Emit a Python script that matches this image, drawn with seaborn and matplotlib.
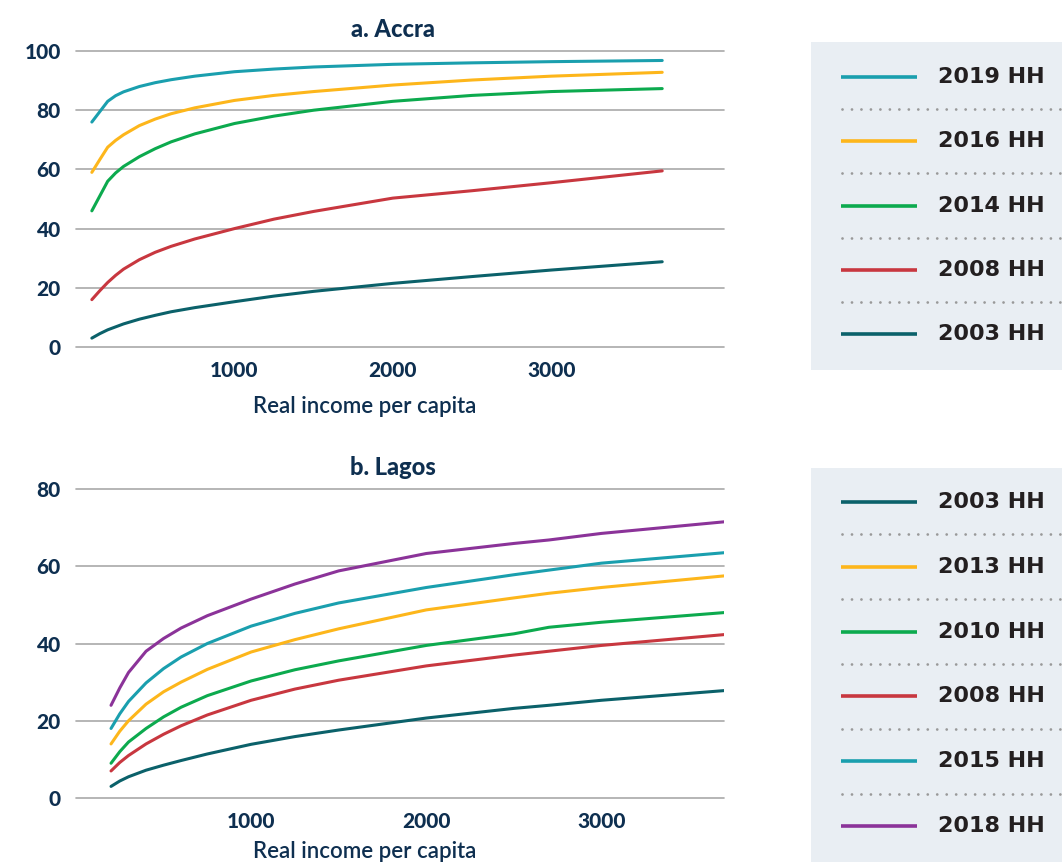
import numpy as np
import pandas as pd
import matplotlib
matplotlib.use("Agg")
import matplotlib.pyplot as plt
import seaborn as sns

# ---- Accra: share (%) by real income per capita ----
accra_income = [100, 150, 200, 250, 300, 400, 500, 600, 750, 1000, 1250,
                1500, 2000, 2500, 3000, 3700]
accra_2019 = [76, 79.5, 83, 84.9, 86.2, 88, 89.3, 90.3, 91.5, 93, 93.9,
              94.6, 95.5, 96, 96.4, 96.8]
accra_2016 = [59, 63.3, 67.5, 69.8, 71.7, 74.8, 77, 78.8, 80.8, 83.3, 85,
              86.3, 88.5, 90.2, 91.5, 92.8]
accra_2014 = [46, 51, 56, 58.8, 61, 64.3, 67, 69.3, 72, 75.5, 78,
              80, 83, 85, 86.3, 87.3]
accra_2008 = [16, 19, 21.8, 24.2, 26.3, 29.5, 32, 34, 36.5, 40, 43.2,
              45.8, 50.3, 52.8, 55.5, 59.5]
accra_2003 = [3, 4.5, 5.8, 6.8, 7.8, 9.4, 10.7, 11.9, 13.3, 15.3, 17.2,
              18.8, 21.5, 23.8, 26, 28.8]

# ---- Lagos ----
lagos_income = [200, 250, 300, 400, 500, 600, 750, 1000, 1250, 1500, 2000,
                2500, 2700, 3000, 3700]
lagos_2018 = [24, 28.5, 32.5, 38, 41.3, 44, 47.2, 51.5, 55.4, 58.8, 63.3,
              65.9, 66.8, 68.5, 71.5]
lagos_2015 = [18, 21.8, 25, 29.8, 33.5, 36.5, 40, 44.5, 47.8, 50.5, 54.5,
              57.8, 59, 60.8, 63.5]
lagos_2013 = [14, 17.3, 20, 24.3, 27.5, 30, 33.3, 37.8, 41, 43.8, 48.7,
              51.8, 53, 54.5, 57.5]
lagos_2010 = [9, 12, 14.5, 18, 21, 23.5, 26.5, 30.3, 33.2, 35.5, 39.5,
              42.5, 44.2, 45.5, 48]
lagos_2008 = [7, 9.2, 11, 14, 16.5, 18.7, 21.5, 25.3, 28.2, 30.5, 34.2,
              37, 38, 39.5, 42.3]
lagos_2003 = [3, 4.4, 5.5, 7.2, 8.5, 9.7, 11.4, 13.9, 15.9, 17.6, 20.7,
              23.2, 24, 25.3, 27.8]

accra_order = ["2019 HH", "2016 HH", "2014 HH", "2008 HH", "2003 HH"]
lagos_order = ["2003 HH", "2013 HH", "2010 HH", "2008 HH", "2015 HH", "2018 HH"]

colors = {
    "teal": "#1a9fae",
    "yellow": "#fdb61b",
    "green": "#0caa4e",
    "red": "#c8373f",
    "dark": "#0b616a",
    "purple": "#8b3399",
}
accra_pal = {"2019 HH": colors["teal"], "2016 HH": colors["yellow"],
             "2014 HH": colors["green"], "2008 HH": colors["red"],
             "2003 HH": colors["dark"]}
lagos_pal = {"2003 HH": colors["dark"], "2013 HH": colors["yellow"],
             "2010 HH": colors["green"], "2008 HH": colors["red"],
             "2015 HH": colors["teal"], "2018 HH": colors["purple"]}


def long_frame(income, series):
    rows = []
    for name, vals in series.items():
        for x, v in zip(income, vals):
            rows.append({"income": x, "share": v, "series": name})
    return pd.DataFrame(rows)


accra_df = long_frame(accra_income, {
    "2019 HH": accra_2019, "2016 HH": accra_2016, "2014 HH": accra_2014,
    "2008 HH": accra_2008, "2003 HH": accra_2003})
lagos_df = long_frame(lagos_income, {
    "2003 HH": lagos_2003, "2013 HH": lagos_2013, "2010 HH": lagos_2010,
    "2008 HH": lagos_2008, "2015 HH": lagos_2015, "2018 HH": lagos_2018})

sns.set_theme(style="white")
plt.rcParams["font.family"] = ["Lato", "DejaVu Sans"]

NAVY = "#0e2f50"
GRID = "#a9a9a9"
W, H = 1062, 864
fig = plt.figure(figsize=(W / 100, H / 100), dpi=100)
fig.patch.set_facecolor("white")


def frac(x0, y0, x1, y1):
    return [x0 / W, 1 - y1 / H, (x1 - x0) / W, (y1 - y0) / H]


def style_axis(ax, title, ylim, yticks, xlim, label_y):
    ax.set_xlim(*xlim)
    ax.set_ylim(*ylim)
    ax.set_yticks(yticks)
    ax.set_xticks([1000, 2000, 3000])
    for s in ax.spines.values():
        s.set_visible(False)
    ax.grid(False)
    for t in yticks:
        ax.axhline(t, color=GRID, lw=1.2, zorder=0, clip_on=False)
    ax.tick_params(axis="both", length=0, labelsize=15, labelcolor=NAVY)
    ax.tick_params(axis="y", pad=11)
    ax.tick_params(axis="x", pad=10)
    for lab in ax.get_xticklabels() + ax.get_yticklabels():
        lab.set_fontweight("black")
    ax.set_xlabel("Real income per capita", fontsize=16, color=NAVY,
                  fontweight="semibold")
    ax.xaxis.set_label_coords(0.446, label_y)
    ax.set_ylabel("")
    ax.set_title(title, fontsize=17, fontweight="black", color=NAVY,
                 pad=10, x=0.489)
    ax.set_facecolor("none")


ax1 = fig.add_axes(frac(76, 51, 724, 347))
sns.lineplot(data=accra_df, x="income", y="share", hue="series",
             hue_order=accra_order, palette=accra_pal, lw=2.2,
             legend=False, ax=ax1)
style_axis(ax1, "a. Accra", (0, 100), [0, 20, 40, 60, 80, 100],
           (0, 4090), -0.165)

ax2 = fig.add_axes(frac(76, 489, 724, 798))
sns.lineplot(data=lagos_df, x="income", y="share", hue="series",
             hue_order=lagos_order, palette=lagos_pal, lw=2.2,
             legend=False, ax=ax2)
style_axis(ax2, "b. Lagos", (0, 80), [0, 20, 40, 60, 80],
           (0, 3700), -0.14)


def legend_panel(box, order, pal, first_row, step):
    x0, y0, x1, y1 = box
    lax = fig.add_axes(frac(x0, y0, x1, y1))
    lax.set_xlim(0, x1 - x0)
    lax.set_ylim(y1 - y0, 0)
    lax.set_facecolor("#e9eef3")
    for s in lax.spines.values():
        s.set_visible(False)
    lax.set_xticks([])
    lax.set_yticks([])
    for i, name in enumerate(order):
        yc = first_row + i * step
        lax.plot([30, 106], [yc, yc], color=pal[name], lw=2.6,
                 solid_capstyle="butt")
        lax.text(127, yc, name, fontsize=16, fontweight="bold",
                 color="#231f20", va="center", ha="left",
                 family=["DejaVu Sans"])
        if i < len(order) - 1:
            ys = yc + step / 2
            lax.plot([31, 260], [ys, ys], color="#999999", lw=2.0,
                     linestyle=(0, (0.01, 3.4)), dash_capstyle="round",
                     clip_on=True)


legend_panel((811, 42, 1062, 370), accra_order, accra_pal, 35, 64.3)
legend_panel((811, 468, 1062, 862), lagos_order, lagos_pal, 34, 64.8)

fig.savefig("out.png", dpi=100, facecolor="white")
